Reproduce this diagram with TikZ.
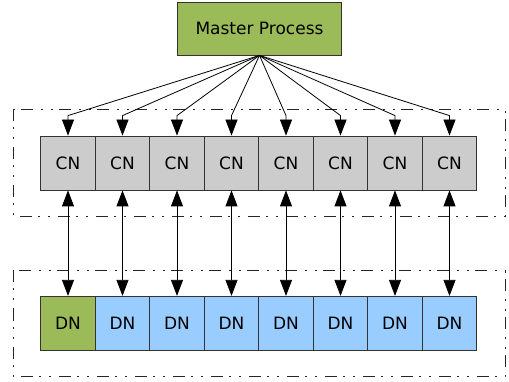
\documentclass[tikz,border=0pt]{standalone}
\usepackage{fontspec}
\setmainfont{DejaVu Sans}
\usetikzlibrary{arrows.meta}

\definecolor{mastergreen}{RGB}{155,187,89}
\definecolor{cngrey}{RGB}{204,204,204}
\definecolor{dnblue}{RGB}{153,204,255}

\begin{document}
\begin{tikzpicture}[x = 1pt, y = -1pt, line width = 0.8pt,
                        box/.style = {draw = black!80, minimum width = 54.5pt, minimum height = 54pt,
                                      inner sep = 0pt, font = \fontsize{17}{20}\selectfont},
                        cn/.style = {box, fill = cngrey},
                        dn/.style = {box, fill = dnblue},
                        master/.style = {box, fill = mastergreen, minimum width = 164pt, minimum height = 53pt},
                        group/.style = {draw = black!85, line width = 0.8pt,
                                        dash pattern = on 12pt off 6pt on 2pt off 8pt on 2pt off 8pt},
                        link/.style = {line width = 0.8pt, -{Triangle[length = 16pt, width = 12pt]}},
                        duplex/.style = {line width = 0.8pt, {Triangle[length = 16pt, width = 12pt]}-{Triangle[length = 16pt, width = 12pt]}}]
      \useasboundingbox (0, 0) rectangle (509, 382);

      \node [master] (m) at (259.5, 28.5) {Master Process};

      \draw [group] (13, 109.5) rectangle (505, 216.5);
      \draw [group] (13, 270.5) rectangle (505, 376.5);

      \node [cn] (c1) at (68, 163) {CN};
      \node [cn] (c2) at (122.5, 163) {CN};
      \node [cn] (c3) at (177, 163) {CN};
      \node [cn] (c4) at (231.5, 163) {CN};
      \node [cn] (c5) at (286, 163) {CN};
      \node [cn] (c6) at (340.5, 163) {CN};
      \node [cn] (c7) at (395, 163) {CN};
      \node [cn] (c8) at (449.5, 163) {CN};

      \node [box, fill = mastergreen] (d1) at (68, 323.3) {DN};
      \node [dn] (d2) at (122.5, 323.3) {DN};
      \node [dn] (d3) at (177, 323.3) {DN};
      \node [dn] (d4) at (231.5, 323.3) {DN};
      \node [dn] (d5) at (286, 323.3) {DN};
      \node [dn] (d6) at (340.5, 323.3) {DN};
      \node [dn] (d7) at (395, 323.3) {DN};
      \node [dn] (d8) at (449.5, 323.3) {DN};

      % fan-out from the master, each arrow ends with a short vertical drop
      \draw [link] (m.south) -- ([yshift = 20pt]c1.north) -- (c1.north);
      \draw [link] (m.south) -- ([yshift = 20pt]c2.north) -- (c2.north);
      \draw [link] (m.south) -- ([yshift = 20pt]c3.north) -- (c3.north);
      \draw [link] (m.south) -- ([yshift = 20pt]c4.north) -- (c4.north);
      \draw [link] (m.south) -- ([yshift = 20pt]c5.north) -- (c5.north);
      \draw [link] (m.south) -- ([yshift = 20pt]c6.north) -- (c6.north);
      \draw [link] (m.south) -- ([yshift = 20pt]c7.north) -- (c7.north);
      \draw [link] (m.south) -- ([yshift = 20pt]c8.north) -- (c8.north);

      \draw [duplex] (c1) -- (d1);
      \draw [duplex] (c2) -- (d2);
      \draw [duplex] (c3) -- (d3);
      \draw [duplex] (c4) -- (d4);
      \draw [duplex] (c5) -- (d5);
      \draw [duplex] (c6) -- (d6);
      \draw [duplex] (c7) -- (d7);
      \draw [duplex] (c8) -- (d8);

      \end{tikzpicture}
\end{document}
